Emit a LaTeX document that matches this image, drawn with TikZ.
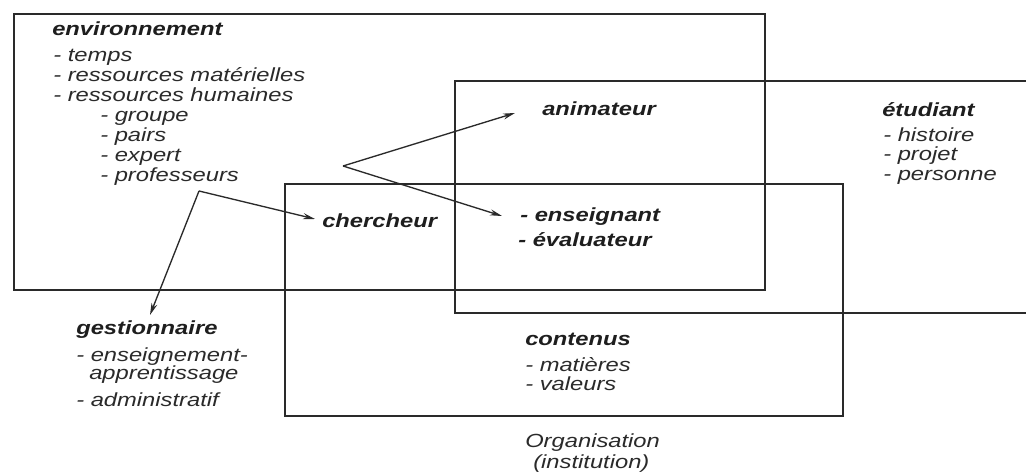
\documentclass[tikz,border=0pt]{standalone}
\usepackage{fontspec}
\setmainfont{Liberation Sans}[FakeStretch=1.25]
\usetikzlibrary{arrows.meta,calc}
\definecolor{ink}{HTML}{2A2A2A}
\definecolor{inkb}{HTML}{1E1E1E}
\begin{document}
\begin{tikzpicture}[x=0.75pt,y=-0.75pt,
  txt/.style={anchor=base west,inner sep=0pt,text=ink,font=\fontsize{14.25}{15}\selectfont\itshape},
  head/.style={anchor=base west,inner sep=0pt,text=inkb,font=\fontsize{14.25}{15}\selectfont\bfseries\itshape},
  frame/.style={draw=ink,line width=1.3pt},
  arr/.style={draw=ink,line width=1pt,-{Stealth[length=9pt,width=4.5pt]}}]
\useasboundingbox (0,0) rectangle (1026,473);
\fill[white] (0,0) rectangle (1026,473);

% frames
\draw[frame] (14,14) rectangle (765,290);
\draw[frame] (1026,81) -- (455,81) -- (455,313) -- (1026,313);
\draw[frame] (285,184) rectangle (843,416);

% environnement
\node[head] (envh) at (52,36) {environnement};
\node[txt] (env1) at (53,62) {- temps};
\node[txt] (env2) at (53,82) {- ressources matérielles};
\node[txt] (env3) at (53,102) {- ressources humaines};
\node[txt] (env4) at (100,122) {- groupe};
\node[txt] (env5) at (100,142) {- pairs};
\node[txt] (env6) at (100,162) {- expert};
\node[txt] (env7) at (100,182) {- professeurs};

% etudiant
\node[head] (etuh) at (882,117) {étudiant};
\node[txt] (etu1) at (883,142) {- histoire};
\node[txt] (etu2) at (883,161) {- projet};
\node[txt] (etu3) at (883,181) {- personne};

% roles
\node[head] (anim) at (542,116) {animateur};
\node[head] (ens) at (520,222) {- enseignant};
\node[head] (eval) at (518,247) {- évaluateur};
\node[head] (cher) at (322,228) {chercheur};

% gestionnaire
\node[head] (gest) at (76,335) {gestionnaire};
\node[txt] (gest1) at (76,362) {- enseignement-};
\node[txt] (gest2) at (89,380) {apprentissage};
\node[txt] (gest3) at (76,407) {- administratif};

% contenus
\node[head] (cont) at (525,346) {contenus};
\node[txt] (cont1) at (525,372) {- matières};
\node[txt] (cont2) at (525,391) {- valeurs};

% organisation
\node[txt] (org) at (525,448) {Organisation};
\node[txt] (inst) at (533,469) {(institution)};

% arrows
\coordinate (v1) at (343,166);
\coordinate (v2) at (199,191);
\draw[arr] (v1) -- ($(anim.base west)+(-27,-3)$);
\draw[arr] (v1) -- ($(ens.base west)+(-18,-6)$);
\draw[arr] (v2) -- ($(cher.base west)+(-7,-9)$);
\draw[arr] (v2) -- ($(gest.base west)+(74,-20)$);
\end{tikzpicture}
\end{document}
